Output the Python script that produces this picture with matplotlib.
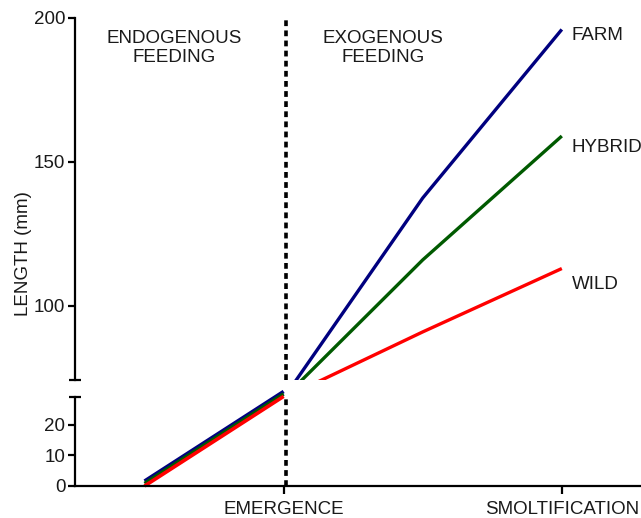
import matplotlib
matplotlib.use('Agg')
import matplotlib.pyplot as plt

plt.rcParams.update({'font.family': 'Liberation Sans', 'font.size': 13.5})

# stages on the x axis: 0.5 = hatching, 1 = emergence, 2 = smoltification
x_early = [0.5, 1.0]
x_late = [1.0, 1.5, 2.0]
stage_ticks = [1.0, 2.0]
stage_labels = ['EMERGENCE', 'SMOLTIFICATION']

series = ['FARM', 'HYBRID', 'WILD']
colors = {'FARM': '#00007f', 'HYBRID': '#005a00', 'WILD': '#ff0000'}
early_len = {'FARM': [1.6, 30.8], 'HYBRID': [0.8, 30.0], 'WILD': [0.0, 29.2]}
late_len = {'FARM': [68, 137.5, 196], 'HYBRID': [68, 116, 159], 'WILD': [68, 91, 113]}
label_y = {'FARM': 194, 'HYBRID': 155, 'WILD': 107.5}

TXT = '#1a1a1a'
fig = plt.figure(figsize=(6.41, 5.18), dpi=100)
ax_top = fig.add_axes([0.117, 0.2664, 0.881, 0.699])
ax_bot = fig.add_axes([0.117, 0.0618, 0.881, 0.1718])

for s in series:
    ax_top.plot(x_late, late_len[s], color=colors[s], lw=2.4, solid_capstyle='butt')
    ax_bot.plot(x_early, early_len[s], color=colors[s], lw=2.6, clip_on=False, solid_capstyle='butt')
    ax_top.text(2.035, label_y[s], s, ha='left', va='center', color=TXT)

for ax in (ax_top, ax_bot):
    ax.set_xlim(0.25, 2.28)
    ax.axvline(1.01, color='black', lw=2.6, ls=(0, (1.6, 1.2)), clip_on=False)
    ax.spines['top'].set_visible(False)
    ax.spines['right'].set_visible(False)
    ax.spines['left'].set_linewidth(1.6)
    ax.tick_params(axis='y', direction='out', length=5, width=1.6, labelsize=13.5,
                   pad=2, labelcolor=TXT)

ax_top.set_ylim(74.3, 200)
ax_top.set_yticks([100, 150, 200])
ax_top.spines['bottom'].set_visible(False)
ax_top.set_xticks([])
ax_top.plot([0.25], [74.3], marker='_', ms=9, mew=1.6, color='black', clip_on=False)

ax_bot.set_ylim(0, 29)
ax_bot.set_yticks([0, 10, 20])
ax_bot.spines['bottom'].set_linewidth(1.6)
ax_bot.set_xticks(stage_ticks)
ax_bot.set_xticklabels(stage_labels)
ax_bot.tick_params(axis='x', direction='out', length=6, width=1.6, labelsize=13.5,
                   pad=5, labelcolor=TXT)
ax_bot.plot([0.25], [29], marker='_', ms=9, mew=1.6, color='black', clip_on=False)

ax_top.text(0.608, 189.5, 'ENDOGENOUS\nFEEDING', ha='center', va='center',
            linespacing=1.15, color=TXT)
ax_top.text(1.356, 189.5, 'EXOGENOUS\nFEEDING', ha='center', va='center',
            linespacing=1.15, color=TXT)

fig.text(0.036, 0.51, 'LENGTH (mm)', rotation=90, ha='center', va='center', color=TXT)

fig.savefig('out.png', dpi=100, facecolor='white')
